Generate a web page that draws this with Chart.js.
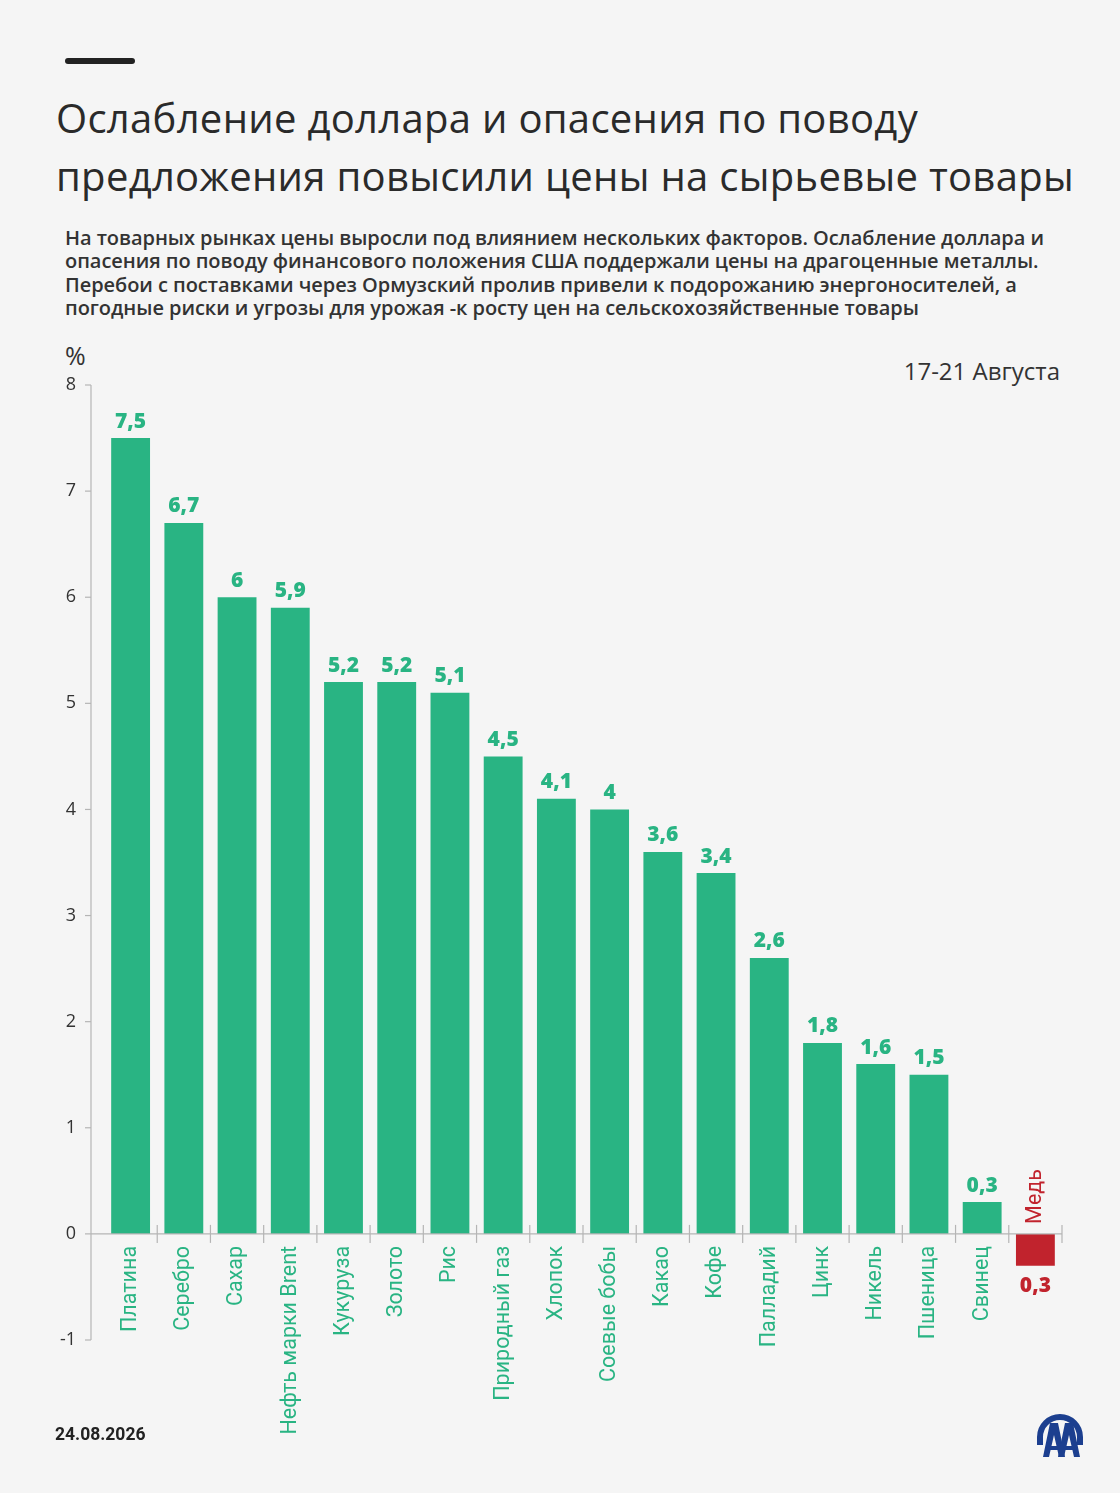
<!DOCTYPE html>
<html lang="ru">
<head>
<meta charset="utf-8">
<script src="https://cdn.jsdelivr.net/npm/chart.js@4"></script>
<style>
  html, body { margin:0; padding:0; background:#f5f5f5; }
  body { width:1120px; height:1493px; position:relative; overflow:hidden; font-family:"Open Sans", sans-serif; }
  .dash { position:absolute; left:65px; top:58px; width:70px; height:6px; background:#222; border-radius:3px; }
  .title { position:absolute; left:56px; top:89px; font-family:"Open Sans", sans-serif; font-size:40px; line-height:58px; color:#2a2a2a; white-space:nowrap; letter-spacing:0.3px; }
  .sub { position:absolute; left:65px; top:226px; font-family:"Open Sans", sans-serif; font-weight:600; font-size:20px; line-height:23.3px; color:#333; white-space:nowrap; letter-spacing:-0.05px; }
  .pct { position:absolute; left:65px; top:338px; font-family:"Open Sans", sans-serif; font-size:25px; color:#333; }
  .period { position:absolute; right:60px; top:354px; font-family:"Open Sans", sans-serif; font-size:24px; color:#333; }
  .date { position:absolute; left:55px; top:1424px; font-family:Roboto, sans-serif; font-weight:700; font-size:17.5px; color:#222; }
  canvas { position:absolute; left:0; top:340px; }
  .logo { position:absolute; left:1030px; top:1408px; }
</style>
</head>
<body>
<div class="dash"></div>
<div class="title">Ослабление доллара и опасения по поводу<br>предложения повысили цены на сырьевые товары</div>
<div class="sub">На товарных рынках цены выросли под влиянием нескольких факторов. Ослабление доллара и<br>опасения по поводу финансового положения США поддержали цены на драгоценные металлы.<br>Перебои с поставками через Ормузский пролив привели к подорожанию энергоносителей, а<br>погодные риски и угрозы для урожая -к росту цен на сельскохозяйственные товары</div>
<div class="pct">%</div>
<div class="period">17-21 Августа</div>
<canvas id="c" width="1120" height="1100"></canvas>
<div class="date">24.08.2026</div>
<svg class="logo" width="60" height="56" viewBox="0 0 60 56">
  <path d="M10 37 L10 29 A20 20 0 0 1 50 29 L50 37" fill="none" stroke="#1c3f8f" stroke-width="6"/>
  <path d="M13 49 L20 15 L28 15 L35 49 L29 49 L24 27 L19 49 Z" fill="#1c3f8f"/>
  <path d="M28 49 L35 15 L43 15 L50 49 L44 49 L39 27 L34 49 Z" fill="#1c3f8f"/>
  <rect x="18" y="38" width="12" height="4" fill="#1c3f8f"/>
  <rect x="33" y="38" width="12" height="4" fill="#1c3f8f"/>
</svg>
<script>
const categories = ['Платина','Серебро','Сахар','Нефть марки Brent','Кукуруза','Золото','Рис','Природный газ','Хлопок','Соевые бобы','Какао','Кофе','Палладий','Цинк','Никель','Пшеница','Свинец','Медь'];
const values = [7.5, 6.7, 6, 5.9, 5.2, 5.2, 5.1, 4.5, 4.1, 4, 3.6, 3.4, 2.6, 1.8, 1.6, 1.5, 0.3, -0.3];
const yMin = -1, yMax = 8, yStep = 1;

const GREEN = '#29b483';
const RED = '#c1232d';
const AXIS = '#b5b5b5';

const fmt = v => String(Math.abs(v)).replace('.', ',');

const overlay = {
  id: 'overlay',
  afterDraw(chart) {
    const ctx = chart.ctx;
    const x = chart.scales.x, y = chart.scales.y;
    const area = chart.chartArea;
    const y0 = y.getPixelForValue(0);
    const axisX = area.left - 13;
    ctx.save();
    ctx.strokeStyle = AXIS;
    ctx.lineWidth = 1.2;
    ctx.beginPath();
    ctx.moveTo(axisX, y.getPixelForValue(yMax));
    ctx.lineTo(axisX, y.getPixelForValue(yMin));
    ctx.stroke();
    for (let v = yMin; v <= yMax; v += yStep) {
      const py = y.getPixelForValue(v);
      ctx.beginPath();
      ctx.moveTo(axisX - 6, py);
      ctx.lineTo(axisX, py);
      ctx.stroke();
    }
    ctx.beginPath();
    ctx.moveTo(axisX, y0);
    ctx.lineTo(area.right, y0);
    ctx.stroke();
    for (let i = 0; i < categories.length; i++) {
      const px = i < categories.length - 1
        ? (x.getPixelForValue(i) + x.getPixelForValue(i + 1)) / 2
        : area.right;
      ctx.beginPath();
      ctx.moveTo(px, y0 - 9);
      ctx.lineTo(px, y0 + 9);
      ctx.stroke();
    }
    const meta = chart.getDatasetMeta(0);
    ctx.font = '800 21px "Open Sans", sans-serif';
    ctx.textAlign = 'center';
    meta.data.forEach((bar, i) => {
      const v = values[i];
      if (v >= 0) {
        ctx.fillStyle = GREEN;
        ctx.textBaseline = 'bottom';
        ctx.fillText(fmt(v), bar.x, bar.y - 6);
      } else {
        ctx.fillStyle = RED;
        ctx.textBaseline = 'top';
        ctx.fillText(fmt(v), bar.x, bar.y + 10);
        ctx.save();
        ctx.translate(bar.x, y0 - 10);
        ctx.rotate(-Math.PI / 2);
        ctx.font = '21.5px Roboto, sans-serif';
        ctx.textAlign = 'left';
        ctx.textBaseline = 'middle';
        ctx.fillText(categories[i], 0, 0);
        ctx.restore();
      }
    });
    ctx.restore();
  }
};

new Chart(document.getElementById('c'), {
  type: 'bar',
  data: {
    labels: categories,
    datasets: [{
      data: values,
      backgroundColor: values.map(v => v >= 0 ? GREEN : RED),
      categoryPercentage: 1,
      barPercentage: 0.73,
      borderWidth: 0
    }]
  },
  options: {
    responsive: false,
    animation: false,
    devicePixelRatio: 1,
    layout: { padding: { top: 45, bottom: 100, left: 0, right: 58 } },
    plugins: { legend: { display: false }, tooltip: { enabled: false } },
    scales: {
      x: {
        position: { y: 0 },
        offset: true,
        grid: { display: false, drawTicks: false },
        border: { display: false },
        ticks: {
          autoSkip: false,
          minRotation: 90,
          maxRotation: 90,
          padding: 12,
          font: { family: 'Roboto', size: 21.5 },
          color: ctx => values[ctx.index] >= 0 ? GREEN : 'rgba(0,0,0,0)'
        }
      },
      y: {
        min: yMin,
        max: yMax,
        afterFit(scale) { scale.width = 104; },
        grid: { display: false, drawTicks: false },
        border: { display: false },
        ticks: {
          stepSize: yStep,
          padding: 28,
          font: { family: 'Open Sans', size: 18 },
          color: '#333'
        }
      }
    }
  },
  plugins: [overlay]
});
</script>
</body>
</html>
